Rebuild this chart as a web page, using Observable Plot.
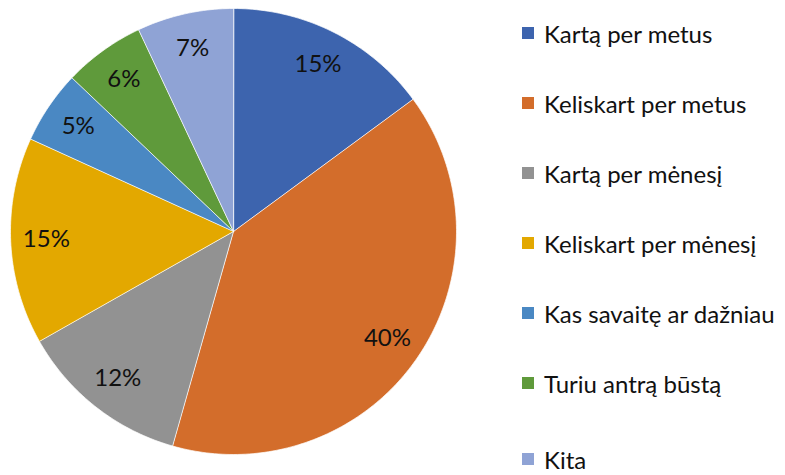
<!DOCTYPE html>
<html>
<head>
<meta charset="utf-8">
<script src="https://cdn.jsdelivr.net/npm/d3@7"></script>
<script src="https://cdn.jsdelivr.net/npm/@observablehq/plot@0.6"></script>
<style>
  html, body { margin: 0; padding: 0; background: #fff; }
  #wrap { position: relative; width: 785px; height: 475px; overflow: hidden; }
  #legend { position: absolute; left: 522px; top: 0; font-family: Lato, "Open Sans", sans-serif; font-size: 24px; color: #111; }
  .item { position: absolute; left: 0; white-space: nowrap; display: flex; align-items: center; }
  .sw { width: 12px; height: 12px; margin-right: 10px; flex: none; }
</style>
</head>
<body>
<div id="wrap"><div id="legend"></div></div>
<script>
const categories = ["Kartą per metus", "Keliskart per metus", "Kartą per mėnesį", "Keliskart per mėnesį", "Kas savaitę ar dažniau", "Turiu antrą būstą", "Kita"];
const values = [14.9, 39.5, 12.4, 15.0, 5.3, 5.9, 7.0];
const labels = ["15%", "40%", "12%", "15%", "5%", "6%", "7%"];
const colors = ["#3D64AE", "#D36D2B", "#929292", "#E3A800", "#4A88C3", "#5F9A3B", "#8FA3D5"];

const pie = d3.pie().sort(null).value(d => d)(values);

// polygon points for each slice derived from pie angles
const pts = [];
pie.forEach((p, i) => {
  const n = Math.max(2, Math.ceil((p.endAngle - p.startAngle) / (Math.PI / 180)));
  pts.push({cat: categories[i], x: 0, y: 0});
  for (let k = 0; k <= n; k++) {
    const a = p.startAngle + (p.endAngle - p.startAngle) * k / n;
    pts.push({cat: categories[i], x: Math.sin(a), y: Math.cos(a)});
  }
});
const labelData = pie.map((p, i) => {
  const m = (p.startAngle + p.endAngle) / 2;
  return {label: labels[i], x: 0.84 * Math.sin(m), y: 0.84 * Math.cos(m)};
});

const chart = Plot.plot({
  width: 785,
  height: 475,
  marginLeft: 10,
  marginRight: 785 - 456,
  marginTop: 8,
  marginBottom: 475 - 454,
  x: {domain: [-1, 1], axis: null},
  y: {domain: [-1, 1], axis: null},
  color: {domain: categories, range: colors},
  style: {fontFamily: "Lato, 'Open Sans', sans-serif", background: "white"},
  marks: [
    Plot.line(pts, {x: "x", y: "y", z: "cat", fill: "cat", stroke: "white", strokeWidth: 0.7, curve: "linear-closed"}),
    Plot.text(labelData, {x: "x", y: "y", text: "label", fontSize: 24, fill: "#111"})
  ]
});
chart.style.position = "absolute";
chart.style.left = "0";
chart.style.top = "0";
document.getElementById("wrap").prepend(chart);

const rowsY = [33, 103, 173, 243, 313, 383, 459];
const legend = document.getElementById("legend");
categories.forEach((c, i) => {
  const it = document.createElement("div");
  it.className = "item";
  it.style.top = (rowsY[i] - 16) + "px";
  it.style.height = "32px";
  const sw = document.createElement("span");
  sw.className = "sw";
  sw.style.background = colors[i];
  const tx = document.createElement("span");
  tx.textContent = c;
  it.appendChild(sw); it.appendChild(tx);
  legend.appendChild(it);
});
</script>
</body>
</html>
